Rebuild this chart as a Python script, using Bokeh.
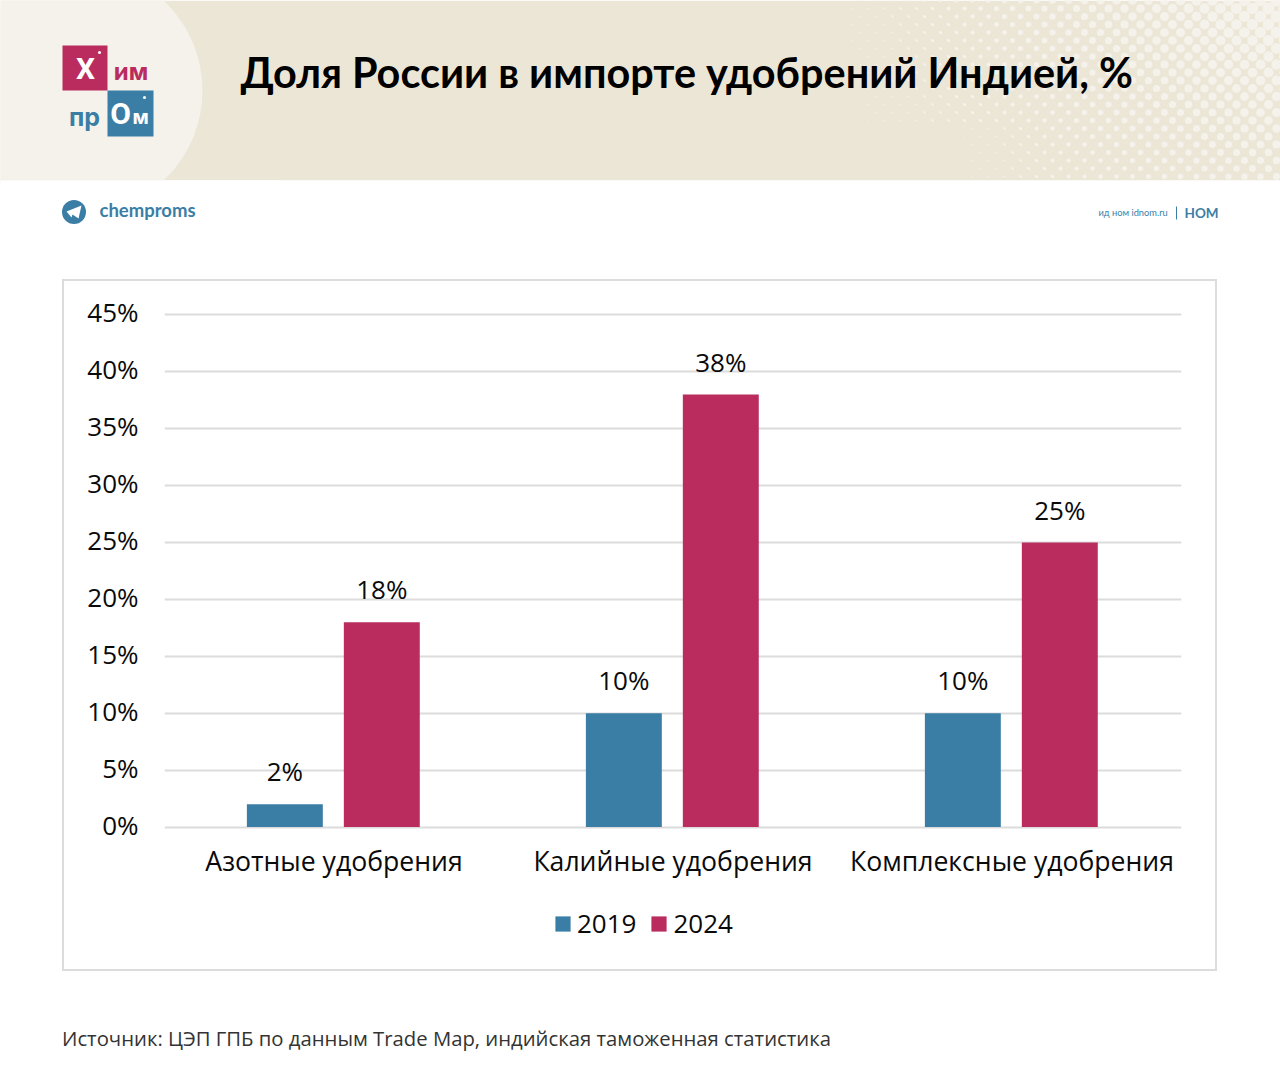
from bokeh.plotting import figure
from bokeh.layouts import column
from bokeh.embed import file_html
from bokeh.resources import INLINE
from bokeh.models import ColumnDataSource, Legend, LegendItem, FixedTicker, Range1d, FactorRange, CustomJSTickFormatter, LinearAxis
from bokeh.core.properties import value
from bokeh.transform import dodge

categories = ["Азотные удобрения", "Калийные удобрения", "Комплексные удобрения"]
values_2019 = [2, 10, 10]
values_2024 = [18, 38, 25]
y_ticks = [0, 5, 10, 15, 20, 25, 30, 35, 40, 45]
series_names = ["2019", "2024"]
title_text = "Доля России в импорте удобрений Индией, %"
source_text = "Источник: ЦЭП ГПБ по данным Trade Map, индийская таможенная статистика"

BLUE = "#3A7EA6"
RED = "#BA2C5E"
BG = "#ECE6D7"
LIGHT = "#F5F2EB"
GRID = "#DCDCDC"
FONT = "Open Sans"
INK = "#0A0A0A"

HEAD_B = 240
W = 1280

# ---- header figure: frame spans everything, in page pixels
head = figure(width=W, height=HEAD_B, output_backend="svg", toolbar_location=None,
              x_range=Range1d(0, W), y_range=Range1d(HEAD_B, 0),
              min_border=0, outline_line_color=None, background_fill_color="white",
              border_fill_color="white", frame_align=False)
head.axis.visible = False
head.grid.visible = False
head.quad(left=[0], right=[1280], top=[0], bottom=[180], fill_color=BG, line_color=None)

# halftone decoration
xs, ys, rs = [], [], []
step = 16.0
row = 0
y = 0.0
while y < 186:
    x = 780.0 + (step / 2 if row % 2 else 0)
    while x < 1296:
        fx = max(0.0, (x - 800) / 480)
        fy = 1 - 0.45 * y / 180
        d = 12.5 * fx * fy
        if y > 120:
            d *= max(0.0, 1 - (1050 - x) / 150) if x < 1050 else 1
        if d > 1.2:
            xs.append(x); ys.append(y); rs.append(d)
        x += step
    y += 8.0
    row += 1
head.scatter(xs, ys, size=rs, marker="circle", fill_color=LIGHT, line_color=None)
head.quad(left=[0], right=[1280], top=[180], bottom=[240], fill_color="white", line_color=None)

# light circle + logo
head.circle(x=[78.6], y=[90], radius=123.4, fill_color=LIGHT, line_color=None)
head.quad(left=[0], right=[280], top=[180], bottom=[240], fill_color="white", line_color=None)
head.quad(left=[62, 107], right=[107, 153], top=[45, 90], bottom=[90, 136],
          fill_color=[RED, BLUE], line_color=None)
head.scatter([99, 144], [52, 97], size=3, marker="circle", fill_color="white", line_color=None)
head.text([85], [68], text=["Х"], text_font=value("Roboto"), text_font_size="30px", text_font_style="bold",
          text_color="white", text_align="center", text_baseline="middle")
head.text([130.5], [71], text=["им"], text_font=value("Inter"), text_font_size="24px", text_font_style="bold",
          text_color=RED, text_align="center", text_baseline="middle")
head.text([84], [116], text=["пр"], text_font=value("Inter"), text_font_size="25px", text_font_style="bold",
          text_color=BLUE, text_align="center", text_baseline="middle")
head.text([120], [113], text=["О"], text_font=value("Roboto"), text_font_size="30px", text_font_style="bold",
          text_color="white", text_align="center", text_baseline="middle")
head.text([140], [116], text=["м"], text_font=value("Inter"), text_font_size="20px", text_font_style="bold",
          text_color="white", text_align="center", text_baseline="middle")

head.text([240], [71], text=[title_text], text_font=value("Lato"), text_font_size="41.4px", text_font_style="bold",
          text_color="#000000", text_align="left", text_baseline="middle")

head.circle(x=[73.5], y=[211.5], radius=12, fill_color=BLUE, line_color=None)
head.patch([66, 81, 78, 72, 71], [211, 205, 218, 214, 217], fill_color="white", line_color=None)
head.text([99], [209.5], text=["chemproms"], text_font=value("Lato"), text_font_size="18.5px", text_font_style="bold",
          text_color=BLUE, text_align="left", text_baseline="middle")
head.text([1098], [211.5], text=["ид ном idnom.ru"], text_font=value("Lato"), text_font_size="9.3px",
          text_color=BLUE, text_align="left", text_baseline="middle")
head.segment([1176], [206], [1176], [219], line_color=BLUE, line_width=1)
head.text([1184], [212], text=["НОМ"], text_font=value("Lato"), text_font_size="13.5px", text_font_style="bold",
          text_color=BLUE, text_align="left", text_baseline="middle")

# ---- chart figure: upper part of the boxed area
BOX_L, BOX_R, BOX_T, BOX_B = 64, 1215, 281, 969
SPLIT = 900
Y0 = 827.0
PX = 513.0 / 45
Y_MIN, Y_MAX = -1, 46
LABEL_SHIFT = 0.22
FRAME_L, FRAME_R = 164, 1181
FRAME_T = round(Y0 - Y_MAX * PX)
FRAME_B = round(Y0 - Y_MIN * PX)

p = figure(width=BOX_R - BOX_L, height=SPLIT - BOX_T, output_backend="svg", toolbar_location=None,
           x_range=FactorRange(factors=categories, range_padding=0, factor_padding=0),
           y_range=Range1d(Y_MIN, Y_MAX), y_axis_location=None,
           min_border_left=FRAME_L - BOX_L, min_border_right=BOX_R - FRAME_R,
           min_border_top=FRAME_T - BOX_T, min_border_bottom=SPLIT - FRAME_B,
           outline_line_color=None, background_fill_color="white", border_fill_color="white",
           frame_align=False)
p.extra_y_ranges = {"labels": Range1d(Y_MIN - LABEL_SHIFT, Y_MAX - LABEL_SHIFT)}
yax = LinearAxis(y_range_name="labels", ticker=FixedTicker(ticks=y_ticks),
                 formatter=CustomJSTickFormatter(code="return tick + '%'"))
p.add_layout(yax, "left")

src = ColumnDataSource(dict(cat=categories, v19=values_2019, v24=values_2024,
                            l19=[f"{v}%" for v in values_2019], l24=[f"{v}%" for v in values_2024]))
off_19, off_24 = -0.145, 0.141
bw = 0.224
p.vbar(x=dodge("cat", off_19, range=p.x_range), top="v19", bottom=0, width=bw, source=src,
       fill_color=BLUE, line_color=None)
p.vbar(x=dodge("cat", off_24, range=p.x_range), top="v24", bottom=0, width=bw, source=src,
       fill_color=RED, line_color=None)
for col, lab, o in (("v19", "l19", off_19), ("v24", "l24", off_24)):
    p.text(x=dodge("cat", o, range=p.x_range), y=col, text=lab, source=src,
           text_font=value(FONT), text_font_size="26px", text_color=INK,
           text_align="center", text_baseline="bottom", y_offset=-15)

p.xgrid.visible = False
p.ygrid.ticker = FixedTicker(ticks=y_ticks)
p.ygrid.grid_line_color = GRID
p.ygrid.grid_line_width = 2
for ax in (p.xaxis[0], yax):
    ax.axis_line_color = None
    ax.major_tick_line_color = None
    ax.minor_tick_line_color = None
    ax.major_label_text_font = FONT
    ax.major_label_text_font_size = "26px"
    ax.major_label_text_color = INK
yax.major_label_standoff = 20
p.xaxis.major_label_standoff = -2
p.xaxis.major_label_text_font_size = "26.6px"

# ---- legend figure: lower part of the boxed area
lf = figure(width=BOX_R - BOX_L, height=BOX_B - SPLIT, output_backend="svg", toolbar_location=None,
            x_range=Range1d(BOX_L, BOX_R), y_range=Range1d(BOX_B, SPLIT),
            min_border=0, outline_line_color=None, background_fill_color="white",
            border_fill_color="white", frame_align=False)
lf.axis.visible = False
lf.grid.visible = False
k19 = lf.quad(left=[-20], right=[-10], top=[-20], bottom=[-10], fill_color=BLUE, line_color=None)
k24 = lf.quad(left=[-20], right=[-10], top=[-20], bottom=[-10], fill_color=RED, line_color=None)
legend = Legend(items=[LegendItem(label=series_names[0], renderers=[k19]),
                       LegendItem(label=series_names[1], renderers=[k24])],
                orientation="horizontal", location=(553 - BOX_L, BOX_B - 941),
                background_fill_alpha=0, border_line_color=None, padding=0, margin=0,
                glyph_width=19, glyph_height=19, label_standoff=5, spacing=13,
                label_text_font=FONT, label_text_font_size="26px", label_text_color=INK,
                label_height=20)
lf.add_layout(legend, "center")

box = column(p, lf, spacing=0, margin=(BOX_T - HEAD_B, 0, 0, BOX_L),
             styles={"outline": "2.5px solid " + GRID})

# ---- footer figure
FOOT_B = 1070
FOOT_T = 975
foot = figure(width=W, height=FOOT_B - FOOT_T, output_backend="svg", toolbar_location=None,
              x_range=Range1d(0, W), y_range=Range1d(FOOT_B, FOOT_T),
              min_border=0, outline_line_color=None, background_fill_color="white",
              border_fill_color="white", frame_align=False, margin=(FOOT_T - BOX_B, 0, 0, 0))
foot.axis.visible = False
foot.grid.visible = False
foot.text([61.5], [1037], text=[source_text], text_font=value(FONT), text_font_size="20.3px",
          text_color="#333333", text_align="left", text_baseline="middle")

out = column(head, box, foot, spacing=0)
open("out.html", "w").write(file_html(out, INLINE))
